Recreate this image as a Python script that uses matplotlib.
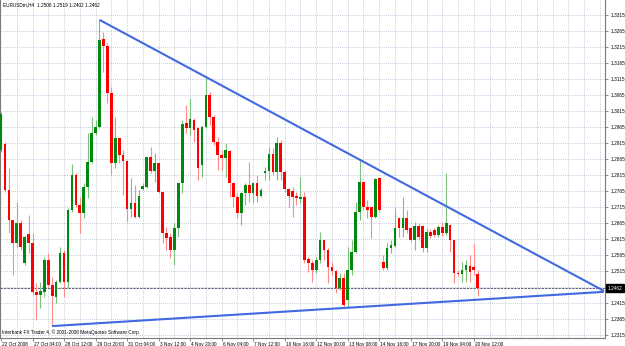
import matplotlib
matplotlib.use('Agg')
import matplotlib.pyplot as plt
import matplotlib.transforms as mtransforms

plt.rcParams['font.family'] = ['Liberation Sans', 'DejaVu Sans']

# EURUSDm H4 bars
opens = [1.2893, 1.2912, 1.2768, 1.2675, 1.2603, 1.2665, 1.2540, 1.2631, 1.2603, 1.2450,
         1.2440, 1.2450, 1.2550, 1.2471, 1.2434, 1.2481, 1.2571, 1.2481, 1.2706, 1.2815,
         1.2721, 1.2696, 1.2778, 1.2856, 1.2946, 1.2965, 1.3240, 1.3218, 1.3071, 1.2853,
         1.2931, 1.2878, 1.2859, 1.2709, 1.2728, 1.2684, 1.2771, 1.2778, 1.2871, 1.2828,
         1.2853, 1.2762, 1.2634, 1.2621, 1.2581, 1.2650, 1.2790, 1.2978, 1.2962, 1.2987,
         1.2962, 1.2846, 1.2965, 1.3065, 1.2996, 1.2918, 1.2878, 1.2868, 1.2890, 1.2790,
         1.2746, 1.2696, 1.2759, 1.2784, 1.2759, 1.2790, 1.2750, 1.2821, 1.2828, 1.2881,
         1.2825, 1.2915, 1.2825, 1.2771, 1.2765, 1.2750, 1.2740, 1.2746, 1.2553, 1.2540,
         1.2518, 1.2550, 1.2612, 1.2581, 1.2528, 1.2515, 1.2462, 1.2493, 1.2425, 1.2518,
         1.2575, 1.2700, 1.2793, 1.2715, 1.2715, 1.2684, 1.2806, 1.2543, 1.2525, 1.2587,
         1.2593, 1.2681, 1.2650, 1.2681, 1.2650, 1.2612, 1.2656, 1.2656, 1.2587, 1.2637,
         1.2643, 1.2628, 1.2653, 1.2634, 1.2659, 1.2612, 1.2509, 1.2506, 1.2518, 1.2531,
         1.2528, 1.2506]
highs = [1.3012, 1.2918, 1.2837, 1.2675, 1.2731, 1.2675, 1.2628, 1.2690, 1.2634, 1.2478,
         1.2481, 1.2559, 1.2571, 1.2496, 1.2487, 1.2590, 1.2581, 1.2712, 1.2850, 1.2821,
         1.2746, 1.2790, 1.2946, 1.2996, 1.2987, 1.3300, 1.3262, 1.3228, 1.3090, 1.2996,
         1.2931, 1.2893, 1.2862, 1.2806, 1.2784, 1.2768, 1.2790, 1.2871, 1.2903, 1.2884,
         1.2853, 1.2762, 1.2653, 1.2634, 1.2665, 1.2793, 1.2987, 1.3034, 1.3056, 1.2993,
         1.2965, 1.2971, 1.3121, 1.3074, 1.3003, 1.2934, 1.2893, 1.2915, 1.2893, 1.2793,
         1.2759, 1.2762, 1.2790, 1.2856, 1.2793, 1.2815, 1.2775, 1.2840, 1.2903, 1.2900,
         1.2934, 1.2925, 1.2831, 1.2775, 1.2778, 1.2762, 1.2809, 1.2762, 1.2559, 1.2550,
         1.2559, 1.2637, 1.2612, 1.2587, 1.2543, 1.2518, 1.2509, 1.2509, 1.2590, 1.2612,
         1.2731, 1.2862, 1.2793, 1.2737, 1.2715, 1.2806, 1.2806, 1.2565, 1.2603, 1.2612,
         1.2712, 1.2684, 1.2746, 1.2706, 1.2653, 1.2668, 1.2665, 1.2659, 1.2650, 1.2646,
         1.2650, 1.2659, 1.2668, 1.2821, 1.2659, 1.2612, 1.2518, 1.2543, 1.2550, 1.2565,
         1.2603, 1.2519]
lows = [1.2887, 1.2762, 1.2634, 1.2503, 1.2590, 1.2581, 1.2534, 1.2571, 1.2440, 1.2362,
        1.2400, 1.2434, 1.2465, 1.2343, 1.2415, 1.2478, 1.2434, 1.2462, 1.2700, 1.2715,
        1.2634, 1.2681, 1.2743, 1.2853, 1.2940, 1.2962, 1.3137, 1.3040, 1.2815, 1.2837,
        1.2853, 1.2753, 1.2668, 1.2684, 1.2681, 1.2681, 1.2768, 1.2775, 1.2821, 1.2793,
        1.2759, 1.2603, 1.2581, 1.2556, 1.2534, 1.2621, 1.2759, 1.2946, 1.2940, 1.2918,
        1.2800, 1.2809, 1.2962, 1.2971, 1.2909, 1.2831, 1.2831, 1.2809, 1.2746, 1.2715,
        1.2681, 1.2659, 1.2721, 1.2731, 1.2728, 1.2731, 1.2746, 1.2800, 1.2800, 1.2815,
        1.2800, 1.2800, 1.2762, 1.2715, 1.2684, 1.2721, 1.2728, 1.2540, 1.2512, 1.2481,
        1.2509, 1.2540, 1.2550, 1.2478, 1.2503, 1.2446, 1.2456, 1.2403, 1.2403, 1.2503,
        1.2571, 1.2675, 1.2706, 1.2681, 1.2618, 1.2681, 1.2700, 1.2518, 1.2518, 1.2571,
        1.2590, 1.2621, 1.2621, 1.2634, 1.2606, 1.2581, 1.2612, 1.2575, 1.2575, 1.2618,
        1.2621, 1.2621, 1.2625, 1.2628, 1.2575, 1.2478, 1.2500, 1.2481, 1.2481, 1.2481,
        1.2503, 1.2437]
closes = [1.3006, 1.2768, 1.2675, 1.2603, 1.2665, 1.2590, 1.2621, 1.2603, 1.2450, 1.2440,
          1.2453, 1.2550, 1.2471, 1.2437, 1.2481, 1.2571, 1.2481, 1.2706, 1.2815, 1.2721,
          1.2696, 1.2778, 1.2856, 1.2946, 1.2965, 1.3237, 1.3218, 1.3071, 1.2853, 1.2931,
          1.2878, 1.2859, 1.2709, 1.2728, 1.2684, 1.2750, 1.2781, 1.2871, 1.2828, 1.2853,
          1.2762, 1.2634, 1.2618, 1.2581, 1.2650, 1.2790, 1.2975, 1.2962, 1.2990, 1.2956,
          1.2837, 1.2965, 1.3065, 1.2996, 1.2918, 1.2878, 1.2868, 1.2893, 1.2790, 1.2746,
          1.2696, 1.2759, 1.2784, 1.2759, 1.2790, 1.2750, 1.2768, 1.2828, 1.2881, 1.2825,
          1.2915, 1.2825, 1.2771, 1.2750, 1.2746, 1.2743, 1.2746, 1.2550, 1.2540, 1.2518,
          1.2550, 1.2612, 1.2581, 1.2528, 1.2515, 1.2462, 1.2493, 1.2409, 1.2518, 1.2575,
          1.2700, 1.2793, 1.2715, 1.2706, 1.2684, 1.2803, 1.2706, 1.2525, 1.2587, 1.2596,
          1.2650, 1.2650, 1.2681, 1.2643, 1.2612, 1.2656, 1.2621, 1.2587, 1.2637, 1.2625,
          1.2628, 1.2653, 1.2634, 1.2665, 1.2612, 1.2509, 1.2506, 1.2518, 1.2534, 1.2512,
          1.2518, 1.2462]

date_labels = ['22 Oct 2008', '27 Oct 04:00', '28 Oct 12:00', '29 Oct 20:00', '31 Oct 04:00',
               '3 Nov 12:00', '4 Nov 20:00', '6 Nov 04:00', '7 Nov 12:00', '10 Nov 16:00',
               '12 Nov 00:00', '13 Nov 08:00', '14 Nov 16:00', '17 Nov 20:00', '19 Nov 04:00',
               '20 Nov 12:00']
label_bars = [0, 8, 16, 24, 32, 40, 48, 56, 64, 72, 80, 88, 96, 104, 112, 120]
price_levels = [1.2315, 1.2365, 1.2415, 1.2465, 1.2515, 1.2565, 1.2615, 1.2665, 1.2715,
                1.2765, 1.2815, 1.2865, 1.2915, 1.2965, 1.3015, 1.3065, 1.3115, 1.3165,
                1.3215, 1.3265, 1.3315]
last_close = 1.2462
title = 'EURUSDm,H4  1.2506 1.2519 1.2402 1.2462'
footer = 'Interbank FX Trader 4, \u00a9 2001-2008 MetaQuotes Software Corp.'

# triangle drawn on the chart
upper_x = [25, 153]
upper_y = [1.3300, 1.2453]
lower_x = [13, 153]
lower_y = [1.2343, 1.2450]

FS = 3.4
W, H = 625, 346
fig = plt.figure(figsize=(W / 100, H / 100), dpi=100)
fig.patch.set_facecolor('white')
ax = fig.add_axes([0, 8 / H, 605 / W, 338 / H])
ax.set_xlim(-0.25, 153.3)
ax.set_ylim(1.230575, 1.3362)

grid_col = '#a4aec4'
for b in range(4, 153, 4):
    ax.axvline(b, color=grid_col, lw=0.5, ls=(0, (1.2, 1.8)), zorder=0)
for p in price_levels:
    ax.axhline(p, color=grid_col, lw=0.5, ls=(0, (1.2, 1.8)), zorder=0)

ax.axhline(last_close, color='#59627a', lw=0.7, ls=(0, (2.5, 1)), zorder=1)

for i in range(len(opens)):
    o, h, l, c = opens[i], highs[i], lows[i], closes[i]
    up = c >= o
    body = '#00880f' if up else '#ff0000'
    wick = '#7cc07c' if up else '#ff8a8a'
    ax.vlines(i, l, h, color=wick, lw=0.8, zorder=2)
    ax.bar(i, max(abs(c - o), 0.00015), bottom=min(o, c), width=0.68,
           color=body, lw=0, zorder=3)

ax.plot(upper_x, upper_y, color='#4169e1', lw=1.5, zorder=4, solid_capstyle='butt')
ax.plot(lower_x, lower_y, color='#4169e1', lw=1.5, zorder=4, solid_capstyle='butt')

ax.spines['top'].set_visible(False)
for side in ['left', 'right', 'bottom']:
    ax.spines[side].set_color('#7a7a7a')
    ax.spines[side].set_linewidth(0.8)

# price scale on the right; the level under the close box is hidden there
ax.yaxis.tick_right()
ax.set_yticks(price_levels)
ax.set_yticklabels(['' if abs(p - last_close) < 0.001 else f'{p:.4f}' for p in price_levels])
ax.tick_params(axis='y', length=2.5, width=0.6, color='#7a7a7a', labelsize=FS, pad=1.5)

ax.set_xticks(label_bars)
ax.set_xticklabels(date_labels, ha='left')
ax.tick_params(axis='x', length=2.5, width=0.6, color='#7a7a7a', labelsize=FS, pad=0.3)
offset = mtransforms.ScaledTranslation(1.2 / 100, 0, fig.dpi_scale_trans)
for lab in ax.get_xticklabels():
    lab.set_transform(lab.get_transform() + offset)

trans = mtransforms.blended_transform_factory(ax.transAxes, ax.transData)
ax.text(1.0 + 3 / 605, last_close, f'{last_close:.4f}', transform=trans, ha='left', va='center',
        fontsize=FS, color='white', zorder=6,
        bbox=dict(boxstyle='square,pad=0.35', facecolor='black', edgecolor='black'))

fig.text(3 / W, 1 - 5 / H, title, ha='left', va='center', fontsize=FS, color='black')
ax.text(2 / 605, 6 / 338, footer, transform=ax.transAxes, ha='left', va='center',
        fontsize=FS, color='black')

fig.savefig('out.png', dpi=100, facecolor='white')
